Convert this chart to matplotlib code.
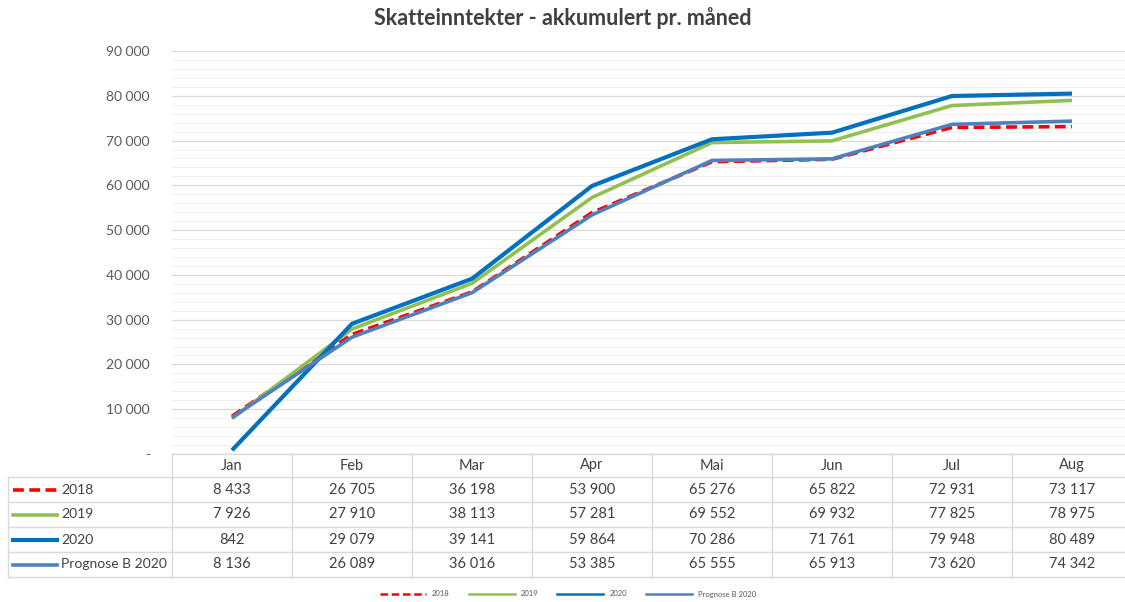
import numpy as np
import matplotlib.pyplot as plt
from matplotlib.lines import Line2D

plt.rcParams['font.family'] = ['Lato', 'DejaVu Sans']

months = ["Jan", "Feb", "Mar", "Apr", "Mai", "Jun", "Jul", "Aug"]
labels = ["2018", "2019", "2020", "Prognose B 2020"]
v2018 = [8433, 26705, 36198, 53900, 65276, 65822, 72931, 73117]
v2019 = [7926, 27910, 38113, 57281, 69552, 69932, 77825, 78975]
v2020 = [842, 29079, 39141, 59864, 70286, 71761, 79948, 80489]
vprog = [8136, 26089, 36016, 53385, 65555, 65913, 73620, 74342]

series = [v2018, v2019, v2020, vprog]
colors = ["#FF0000", "#92C050", "#0070C0", "#4F81BD"]
styles = [(0, (3, 1.5)), "-", "-", "-"]
widths = [2.6, 2.6, 3.0, 2.6]

W, H = 1125, 602
fig = plt.figure(figsize=(W / 100, H / 100), dpi=100)
left, right, top, bottom = 172, 1132, 51, 454
ax = fig.add_axes([left / W, 1 - bottom / H, (right - left) / W, (bottom - top) / H])

x = np.arange(len(months))
order = [1, 0, 3, 2]
for i in order:
    ax.plot(x, series[i], color=colors[i], linestyle=styles[i], lw=widths[i],
            zorder=3 + i, solid_capstyle="butt")

ax.set_xlim(-0.5, len(months) - 0.5)
ax.set_ylim(0, 90000)
ax.set_yticks(np.arange(0, 90001, 10000))
ax.set_yticks(np.arange(0, 90001, 2000), minor=True)
ax.set_yticklabels(["-"] + [f"{v:,}".replace(",", " ") for v in range(10000, 90001, 10000)],
                   fontsize=10, color="#595959")
ax.tick_params(axis="y", which="both", length=0, pad=16)
ax.set_xticks([])
ax.grid(axis="y", which="major", color="#D9D9D9", lw=0.9)
ax.grid(axis="y", which="minor", color="#F0F0F0", lw=0.7)
for s in ax.spines.values():
    s.set_visible(False)

fig.text(0.5, 1 - 18 / H, "Skatteinntekter - akkumulert pr. måned",
         ha="center", va="center", fontsize=15.5, fontweight="bold", color="#404040")

# data table below the plot
grid_c = "#D9D9D9"
row_h = 25
col_w = (right - left) / len(months)
tbl_left = 8
hdr_top = bottom
rows_top = bottom + 23
tbl_bot = rows_top + row_h * len(labels)

def fx(px):
    return px / W

def fy(py):
    return 1 - py / H

# vertical lines for month columns
for j in range(len(months) + 1):
    xp = left + j * col_w
    fig.add_artist(Line2D([fx(xp), fx(xp)], [fy(hdr_top), fy(tbl_bot)], color=grid_c, lw=1))
fig.add_artist(Line2D([fx(tbl_left), fx(tbl_left)], [fy(rows_top), fy(tbl_bot)], color=grid_c, lw=1))
# horizontal lines
fig.add_artist(Line2D([fx(left), fx(right)], [fy(hdr_top), fy(hdr_top)], color=grid_c, lw=1))
for r in range(len(labels) + 1):
    yp = rows_top + r * row_h
    fig.add_artist(Line2D([fx(tbl_left), fx(right)], [fy(yp), fy(yp)], color=grid_c, lw=1))

for j, m in enumerate(months):
    fig.text(fx(left + (j + 0.5) * col_w), fy(hdr_top + 11.5), m, ha="center", va="center",
             fontsize=10.5, color="#404040")

for r, (lab, vals) in enumerate(zip(labels, series)):
    yc = rows_top + (r + 0.5) * row_h
    fig.add_artist(Line2D([fx(13), fx(57)], [fy(yc), fy(yc)], color=colors[r],
                          linestyle=styles[r], lw=widths[r]))
    fig.text(fx(61), fy(yc), lab, ha="left", va="center", fontsize=10, color="#404040")
    for j, v in enumerate(vals):
        fig.text(fx(left + (j + 0.5) * col_w), fy(yc), f"{v:,}".replace(",", " "),
                 ha="center", va="center", fontsize=10.5, color="#404040")

# bottom legend
handles = [Line2D([], [], color=colors[i], linestyle=styles[i], lw=1.8) for i in range(4)]
fig.legend(handles, labels, loc="center", bbox_to_anchor=(0.505, fy(594)), ncol=4,
           frameon=False, fontsize=5.5, handlelength=6, columnspacing=2.5,
           labelcolor="#595959")

fig.savefig("out.png", dpi=100)
